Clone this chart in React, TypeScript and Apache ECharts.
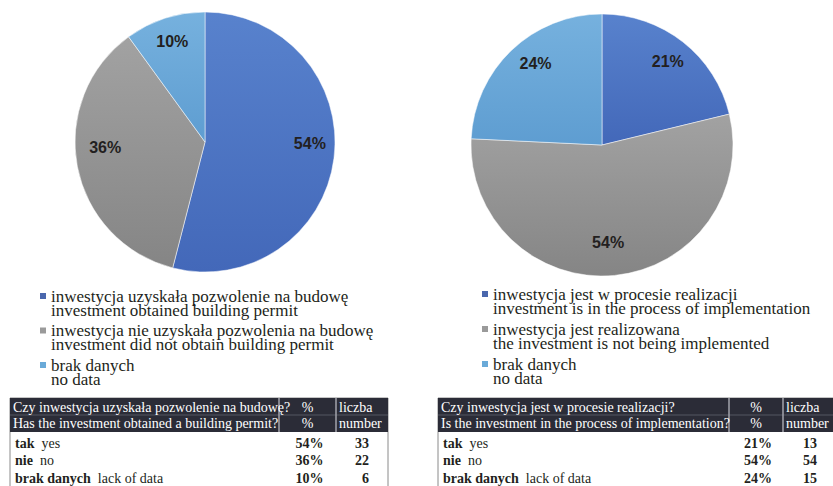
import React, { useEffect, useRef } from "react";
import * as echarts from "echarts";

// ---------- data ----------
const leftNamesPl = [
  "inwestycja uzyskała pozwolenie na budowę",
  "inwestycja nie uzyskała pozwolenia na budowę",
  "brak danych",
];
const leftNamesEn = [
  "investment obtained building permit",
  "investment did not obtain building permit",
  "no data",
];
const leftValues = [54, 36, 10];
const leftCounts = [33, 22, 6];

const rightNamesPl = [
  "inwestycja jest w procesie realizacji",
  "inwestycja jest realizowana",
  "brak danych",
];
const rightNamesEn = [
  "investment is in the process of implementation",
  "the investment is not being implemented",
  "no data",
];
const rightValues = [21, 54, 24];
const rightCounts = [13, 54, 15];

const leftTableTitle = [
  "Czy inwestycja uzyskała pozwolenie na budowę?",
  "Has the investment obtained a building permit?",
];
const rightTableTitle = [
  "Czy inwestycja jest w procesie realizacji?",
  "Is the investment in the process of implementation?",
];
const pctHeader = ["%", "%"];
const countHeader = ["liczba", "number"];
const rowLabelsPl = ["tak", "nie", "brak danych"];
const rowLabelsEn = ["yes", "no", "lack of data"];

// ---------- styles ----------
const sliceTop = ["#5882cd", "#a2a2a2", "#76b1de"];
const sliceBottom = ["#4368b9", "#858585", "#5e9dd1"];
const markerColors = ["#4a67ad", "#9a9a9a", "#6aaad8"];
const SERIF = "'Liberation Serif', 'DejaVu Serif', serif";
const SANS = "'Liberation Sans', Arial, sans-serif";
// small label nudges (Excel-style placement)
const leftLabelShift = [[0, -12], [4, -14], [0, 0]];
const rightLabelShift = [[0, 0], [-4, -9], [7, -4]];

function pieSeries(center: number[], values: number[], names: string[], r: number, shift: number[][]) {
  const data = values.map((v, i) => ({
    value: v,
    name: names[i],
    itemStyle: {
      color: new echarts.graphic.LinearGradient(0, 0, 0, 1, [
        { offset: 0, color: sliceTop[i] },
        { offset: 1, color: sliceBottom[i] },
      ]),
    },
  }));
  return [
    {
      type: "pie",
      center,
      radius: r,
      startAngle: 90,
      clockwise: true,
      data,
      label: { show: false },
      labelLine: { show: false },
      itemStyle: { borderColor: "rgba(255,255,255,0.5)", borderWidth: 1 },
      silent: true,
    },
    {
      type: "pie",
      center,
      radius: [r * 0.58, r],
      startAngle: 90,
      clockwise: true,
      silent: true,
      data: values.map((v, i) => ({ value: v, name: names[i] + " label" })),
      itemStyle: { color: "rgba(0,0,0,0)" },
      label: {
        show: true,
        position: "inside",
        formatter: "{c}%",
        fontFamily: SANS,
        fontWeight: "bold",
        fontSize: 16,
        color: "#231f20",
      },
      labelLayout: (p: any) => ({ dx: shift[p.dataIndex][0], dy: shift[p.dataIndex][1] }),
      labelLine: { show: false },
    },
  ];
}

function legendGraphics(x: number, y0: number, step: number, pl: string[], en: string[]) {
  const els: any[] = [];
  pl.forEach((t, i) => {
    const y = y0 + i * step;
    els.push({
      type: "rect",
      shape: { x: x, y: y - 6, width: 6, height: 6 },
      style: { fill: markerColors[i] },
    });
    els.push({
      type: "text",
      x: x + 11,
      y: y - 10,
      style: {
        text: t + "\n" + en[i],
        font: `17px ${SERIF}`,
        lineHeight: 14,
        fill: "#231f20",
        verticalAlign: "top",
        align: "left",
      },
    });
  });
  return els;
}

function tableGraphics(
  left: number,
  c1: number,
  c2: number,
  right: number,
  title: string[],
  values: number[],
  counts: number[]
) {
  const top = 398;
  const headH = 34;
  const els: any[] = [];
  els.push({
    type: "rect",
    shape: { x: left, y: top, width: right - left, height: 100 },
    style: { fill: "#fff", stroke: "#8a8a8a", lineWidth: 1 },
  });
  els.push({
    type: "rect",
    shape: { x: left, y: top, width: right - left, height: headH },
    style: { fill: "#2b2c37" },
  });
  els.push({
    type: "line",
    shape: { x1: left, y1: top + 17, x2: right, y2: top + 17 },
    style: { stroke: "#555662", lineWidth: 1 },
  });
  [c1, c2].forEach((cx) =>
    els.push({
      type: "line",
      shape: { x1: cx, y1: top, x2: cx, y2: top + headH },
      style: { stroke: "#a3a3ad", lineWidth: 1.5 },
    })
  );
  const headStyle = { font: `14px ${SERIF}`, fill: "#ffffff", verticalAlign: "middle" };
  [0, 1].forEach((r) => {
    const y = top + 9 + r * 16;
    els.push({ type: "text", x: left + 3, y, style: { ...headStyle, text: title[r], align: "left" } });
    els.push({ type: "text", x: (c1 + c2) / 2, y, style: { ...headStyle, text: pctHeader[r], align: "center" } });
    els.push({ type: "text", x: c2 + 3, y, style: { ...headStyle, text: countHeader[r], align: "left" } });
  });
  rowLabelsPl.forEach((lab, i) => {
    const y = 443 + i * 17.5;
    els.push({
      type: "text",
      x: left + 5,
      y,
      style: {
        text: `{b|${lab}}{r|${rowLabelsEn[i]}}`,
        verticalAlign: "middle",
        align: "left",
        rich: {
          b: { font: `bold 14px ${SERIF}`, fill: "#231f20", padding: [0, 7, 0, 0] },
          r: { font: `14px ${SERIF}`, fill: "#231f20" },
        },
      },
    });
    els.push({
      type: "text",
      x: (c1 + c2) / 2 + 2,
      y,
      style: { text: values[i] + "%", font: `bold 14px ${SERIF}`, fill: "#231f20", align: "center", verticalAlign: "middle" },
    });
    els.push({
      type: "text",
      x: right - 19,
      y,
      style: { text: String(counts[i]), font: `bold 14px ${SERIF}`, fill: "#231f20", align: "right", verticalAlign: "middle" },
    });
  });
  return els;
}

export default function App() {
  const ref = useRef<HTMLDivElement>(null);
  useEffect(() => {
    if (!ref.current) return;
    const chart = echarts.init(ref.current, null, { renderer: "svg" });
    chart.setOption({
      animation: false,
      backgroundColor: "#ffffff",
      series: [
        ...pieSeries([205, 142], leftValues, leftNamesPl, 130, leftLabelShift),
        ...pieSeries([602, 145], rightValues, rightNamesPl, 131, rightLabelShift),
      ],
      graphic: [
        ...legendGraphics(40, 299, 34.5, leftNamesPl, leftNamesEn),
        ...legendGraphics(482, 297, 35, rightNamesPl, rightNamesEn),
        ...tableGraphics(10, 279, 336, 388, leftTableTitle, leftValues, leftCounts),
        ...tableGraphics(438, 729, 783, 836, rightTableTitle, rightValues, rightCounts),
      ],
    });
    return () => chart.dispose();
  }, []);
  return (
    <div
      ref={ref}
      style={{ position: "absolute", left: 0, top: 0, width: 833, height: 486 }}
    />
  );
}
